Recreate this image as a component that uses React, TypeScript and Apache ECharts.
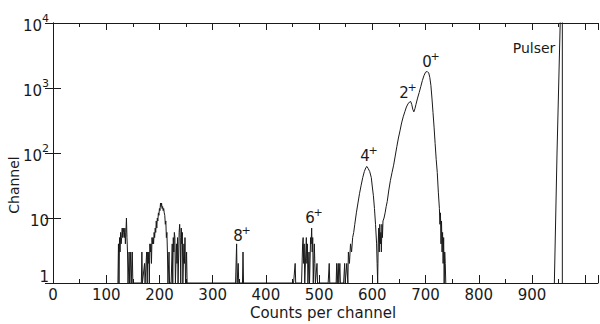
import React, { useEffect, useRef } from "react";
import * as echarts from "echarts";

// Spectrum: channel positions and counts (1 = empty channel / baseline)
const channels = [
  122, 123, 124, 125, 126, 127, 128, 129, 130, 131, 132, 133, 134, 135, 136, 137, 138, 139, 140, 141, 143, 144, 146, 147, 149, 150,
  166, 167, 168, 172, 173, 176, 177, 178, 179, 180, 181, 182, 183, 184, 185, 186, 187, 188, 189, 190, 191, 192, 193, 194, 195, 196, 197,
  198, 199, 200, 201, 202, 203, 204, 205, 206, 207, 208, 209, 210, 211, 212, 213, 214, 215, 216, 218, 219,
  222, 224, 225, 226, 227, 228, 229, 230, 232, 233, 234, 235, 237, 238, 239, 240, 241, 242, 243, 244, 246, 247, 248, 249, 251, 252,
  343, 345, 346, 348, 349, 356, 357, 358,
  452, 455, 456, 467, 469, 470, 471, 472, 473, 475, 476, 477, 478, 479, 481, 482, 484, 485, 486, 487, 488, 489, 491, 492, 493, 496, 497,
  517, 519, 520, 532, 533, 534, 536, 537, 539, 540, 546, 548, 549,
  550, 552, 554, 555, 557, 559, 561, 563, 565, 567, 570, 573, 576, 579, 582, 585, 588, 590, 592, 595, 598, 600, 602, 604, 606, 608, 609, 610,
  611, 612, 613, 614, 615, 616, 617, 618, 619, 620, 622, 624, 626, 628, 631, 634, 637, 640, 643, 646, 649, 652, 655, 658, 661, 664, 667, 670,
  672, 674, 676, 678, 680, 682, 685, 688, 691, 694, 697, 700, 703, 706, 708, 710, 712, 714, 716, 718, 720, 722, 724, 726, 727, 728, 729, 730,
  731, 732, 733, 734, 735, 736, 737, 738,
];
const counts = [
  1, 4, 1, 5, 3, 6, 4, 5, 7, 5, 7, 6, 5, 7, 4, 6, 10, 5, 3, 1, 3, 1, 3, 1, 3, 1,
  1, 3, 1, 2, 1, 3, 1, 3, 2, 3, 1, 4, 3, 4, 2, 5, 4, 5, 4, 6, 5, 7, 6, 9, 7, 10, 9,
  12, 11, 14, 13, 17, 15, 17, 14, 15, 13, 14, 12, 11, 8, 9, 5, 6, 3, 1, 3, 1,
  1, 4, 1, 5, 3, 6, 5, 1, 4, 2, 5, 1, 6, 8, 5, 1, 7, 4, 6, 1, 4, 2, 5, 1, 3, 1,
  1, 4, 1, 2, 1, 1, 3, 1,
  1, 2, 1, 1, 4, 5, 2, 4, 1, 3, 5, 2, 4, 1, 3, 1, 5, 4, 7, 3, 5, 1, 4, 2, 1, 2, 1,
  1, 2, 1, 1, 2, 1, 2, 1, 2, 1, 1, 2, 1,
  1, 2, 1, 3, 2, 4, 3, 5, 6, 8, 12, 17, 24, 32, 42, 52, 60, 62, 58, 52, 42, 30, 22, 14, 8, 4, 2, 1,
  4, 7, 3, 8, 4, 6, 3, 8, 5, 9, 10, 12, 15, 18, 27, 38, 50, 65, 90, 125, 170, 220, 290, 360, 430, 510, 570, 610,
  620, 560, 470, 430, 480, 560, 700, 850, 1050, 1300, 1550, 1750, 1800, 1700, 1450, 1100, 700, 420, 250, 140, 80, 50, 25, 14, 8, 12, 4, 9,
  3, 6, 2, 5, 1, 3, 2, 1,
];
const pulserChannels = [942, 947, 953, 955, 957, 957];
const pulserCounts = [1, 100, 10000, 100000, 100000, 1];

const xTickLabels = ["0", "100", "200", "300", "400", "500", "600", "700", "800", "900"];
const yTickLabels: Record<number, string> = {
  1: "{one|1}",
  10: "{b|10}",
  100: "{b|10}{s|2}",
  1000: "{b|10}{s|3}",
  10000: "{b|10}{s|4}",
};
const spinLabels = ["0", "2", "4", "6", "8"];
const spinSign = "+";
const pulserLabel = "Pulser";

const FONT = "DejaVu Sans";
const INK = "#1a1a1a";

export default function App() {
  const ref = useRef<HTMLDivElement>(null);
  useEffect(() => {
    if (!ref.current) return;
    const chart = echarts.init(ref.current, null, { renderer: "svg" });
    const main = channels.map((c, i) => [c, counts[i]]);
    const pulser = pulserChannels.map((c, i) => [c, pulserCounts[i]]);
    const axisLine = { show: true, lineStyle: { color: INK, width: 1 } };
    const rich = {
      b: { fontFamily: FONT, fontSize: 15, color: INK, lineHeight: 20, verticalAlign: "bottom" },
      s: { fontFamily: FONT, fontSize: 11, color: INK, lineHeight: 20, verticalAlign: "top" },
      one: { fontFamily: FONT, fontSize: 15, color: INK, padding: [0, 0, 12, 0] },
    };
    // centre of the digit of each spin label
    const spinPos: [number, number][] = [
      [427, 62],
      [404, 93],
      [365, 156],
      [310, 218],
      [238, 236],
    ];
    const spinTexts = spinLabels.flatMap((d, i) => [
      {
        type: "text",
        x: spinPos[i][0],
        y: spinPos[i][1],
        style: { text: d, font: `15px ${FONT}`, fill: INK, align: "center", verticalAlign: "middle" },
      },
      {
        type: "text",
        x: spinPos[i][0] + 8,
        y: spinPos[i][1] - 6,
        style: { text: spinSign, font: `11px ${FONT}`, fill: INK, align: "center", verticalAlign: "middle" },
      },
    ]);
    chart.setOption({
      animation: false,
      backgroundColor: "#ffffff",
      grid: { left: 53, right: 2, top: 23, bottom: 41 },
      xAxis: [
        {
          type: "value",
          min: 0,
          max: 1024,
          interval: 100,
          position: "bottom",
          axisLine,
          splitLine: { show: false },
          axisTick: { show: true, inside: true, length: 8, lineStyle: { color: INK } },
          minorTick: { show: true, splitNumber: 2, length: 4, lineStyle: { color: INK } },
          axisLabel: {
            margin: 4,
            color: INK,
            fontFamily: FONT,
            fontSize: 15,
            showMaxLabel: false,
            formatter: (v: number) => {
              const s = String(Math.round(v));
              return xTickLabels.includes(s) ? s : "";
            },
          },
        },
        {
          type: "value",
          min: 0,
          max: 1024,
          interval: 100,
          position: "top",
          axisLine,
          splitLine: { show: false },
          axisTick: { show: true, inside: true, length: 7, lineStyle: { color: INK } },
          minorTick: { show: true, splitNumber: 2, length: 4, lineStyle: { color: INK } },
          axisLabel: { show: false },
        },
      ],
      yAxis: [
        {
          type: "log",
          logBase: 10,
          min: 1,
          max: 10000,
          position: "left",
          axisLine,
          splitLine: { show: false },
          axisTick: { show: true, inside: true, length: 8, lineStyle: { color: INK } },
          minorTick: { show: false },
          axisLabel: {
            margin: 4,
            color: INK,
            fontFamily: FONT,
            fontSize: 15,
            showMinLabel: true,
            showMaxLabel: true,
            formatter: (v: number) => yTickLabels[Math.round(v)] ?? "",
            rich,
          },
        },
        {
          type: "log",
          logBase: 10,
          min: 1,
          max: 10000,
          position: "right",
          axisLine,
          splitLine: { show: false },
          axisTick: { show: true, inside: true, length: 8, lineStyle: { color: INK } },
          axisLabel: { show: false },
        },
      ],
      series: [
        {
          type: "line",
          data: main,
          xAxisIndex: 0,
          yAxisIndex: 0,
          showSymbol: false,
          clip: true,
          lineStyle: { color: INK, width: 1 },
        },
        {
          type: "line",
          data: pulser,
          xAxisIndex: 0,
          yAxisIndex: 0,
          showSymbol: false,
          clip: true,
          lineStyle: { color: INK, width: 1 },
        },
      ],
      graphic: [
        ...spinTexts,
        {
          type: "text",
          x: 534,
          y: 48,
          style: { text: pulserLabel, font: `14px ${FONT}`, fill: INK, align: "center", verticalAlign: "middle" },
        },
        {
          type: "text",
          x: 14,
          y: 185,
          rotation: Math.PI / 2,
          style: {
            text: "Channel",
            font: `14px ${FONT}`,
            fill: INK,
            align: "center",
            verticalAlign: "middle",
          },
        },
        {
          type: "text",
          x: 323,
          y: 313,
          style: {
            text: "Counts per channel",
            font: `15px ${FONT}`,
            fill: INK,
            align: "center",
            verticalAlign: "middle",
          },
        },
      ],
    });
    return () => chart.dispose();
  }, []);
  return (
    <div
      ref={ref}
      style={{ position: "absolute", left: 0, top: 0, width: 600, height: 324 }}
    />
  );
}
